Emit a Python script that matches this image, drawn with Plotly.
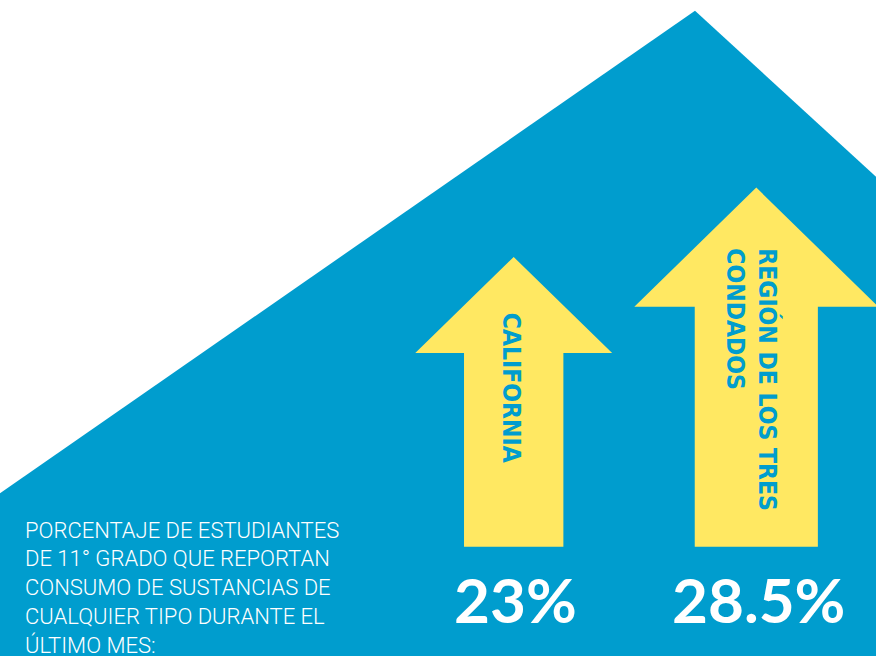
import plotly.graph_objects as go

# ---- data ----
regions = ["CALIFORNIA", "REGIÓN DE LOS TRES<br>CONDADOS"]
values = [23, 28.5]
value_labels = ["23%", "28.5%"]
description = [
    "PORCENTAJE DE ESTUDIANTES",
    "DE 11° GRADO QUE REPORTAN",
    "CONSUMO DE SUSTANCIAS DE",
    "CUALQUIER TIPO DURANTE EL",
    "ÚLTIMO MES:",
]

# ---- style / layout constants ----
W, H = 876, 656
BLUE = "#009dce"
YELLOW = "#ffe862"
arrow_centers = [513.7, 756.3]   # pixel x of each arrow axis
base_px = 546.7                   # pixel y of arrow bottoms
k_total, k_head, k_head_half, k_shaft_half = 12.6, 4.18, 4.28, 2.16
mountain_x = [0, 695, 876, 876, 0]
mountain_y_px = [493.3, 10.7, 176.7, 656, 656]


def Y(px):
    return H - px


fig = go.Figure()

# background mountain
fig.add_trace(go.Scatter(
    x=mountain_x, y=[Y(v) for v in mountain_y_px], mode="lines",
    fill="toself", fillcolor=BLUE, line=dict(width=0, color=BLUE),
    hoverinfo="skip", showlegend=False))

# arrows scaled by value
for cx, v, name in zip(arrow_centers, values, regions):
    b = Y(base_px)
    top = b + v * k_total
    hb = top - v * k_head
    sh = v * k_shaft_half
    hh = v * k_head_half
    xs = [cx - sh, cx - sh, cx - hh, cx, cx + hh, cx + sh, cx + sh, cx - sh]
    ys = [b, hb, hb, top, hb, hb, b, b]
    fig.add_trace(go.Scatter(
        x=xs, y=ys, mode="lines", fill="toself", fillcolor=YELLOW,
        line=dict(width=0, color=YELLOW), hoverinfo="skip", showlegend=False,
        name=name.replace("<br>", " ")))

LABEL_FONT = "Liberation Sans Narrow, DejaVu Sans Condensed, Arial"
annotations = []
# arrow labels
annotations.append(dict(
    x=511.7, y=Y(387.5), text=regions[0], textangle=90, showarrow=False,
    xanchor="center", yanchor="middle",
    font=dict(family=LABEL_FONT, size=24.5, color=BLUE, weight="bold")))
annotations.append(dict(
    x=751.7, y=Y(380), text=regions[1], textangle=90, showarrow=False,
    xanchor="center", yanchor="middle", align="left",
    font=dict(family=LABEL_FONT, size=24.5, color=BLUE, weight="bold")))

# value labels
for cx, lab in zip(arrow_centers, value_labels):
    annotations.append(dict(
        x=cx + 2, y=Y(599), text=lab, showarrow=False, xanchor="center",
        yanchor="middle",
        font=dict(family="Lato, Open Sans, sans-serif", size=62,
                  color="white", weight="bold")))

# description block
for i, line in enumerate(description):
    annotations.append(dict(
        x=23, y=Y(530 + i * 28.8), text=line, showarrow=False,
        xanchor="left", yanchor="middle",
        font=dict(family="Roboto, Lato, sans-serif", size=22,
                  color="white", weight=300)))

fig.update_layout(
    width=W, height=H,
    margin=dict(l=0, r=0, t=0, b=0),
    paper_bgcolor="white", plot_bgcolor="white",
    xaxis=dict(range=[0, W], visible=False, fixedrange=True),
    yaxis=dict(range=[0, H], visible=False, fixedrange=True),
    annotations=annotations,
    showlegend=False,
)

fig.write_html(
    "out.html",
    config={"displayModeBar": False},
    post_script="document.body.style.margin='0';document.body.style.overflow='hidden';",
)
